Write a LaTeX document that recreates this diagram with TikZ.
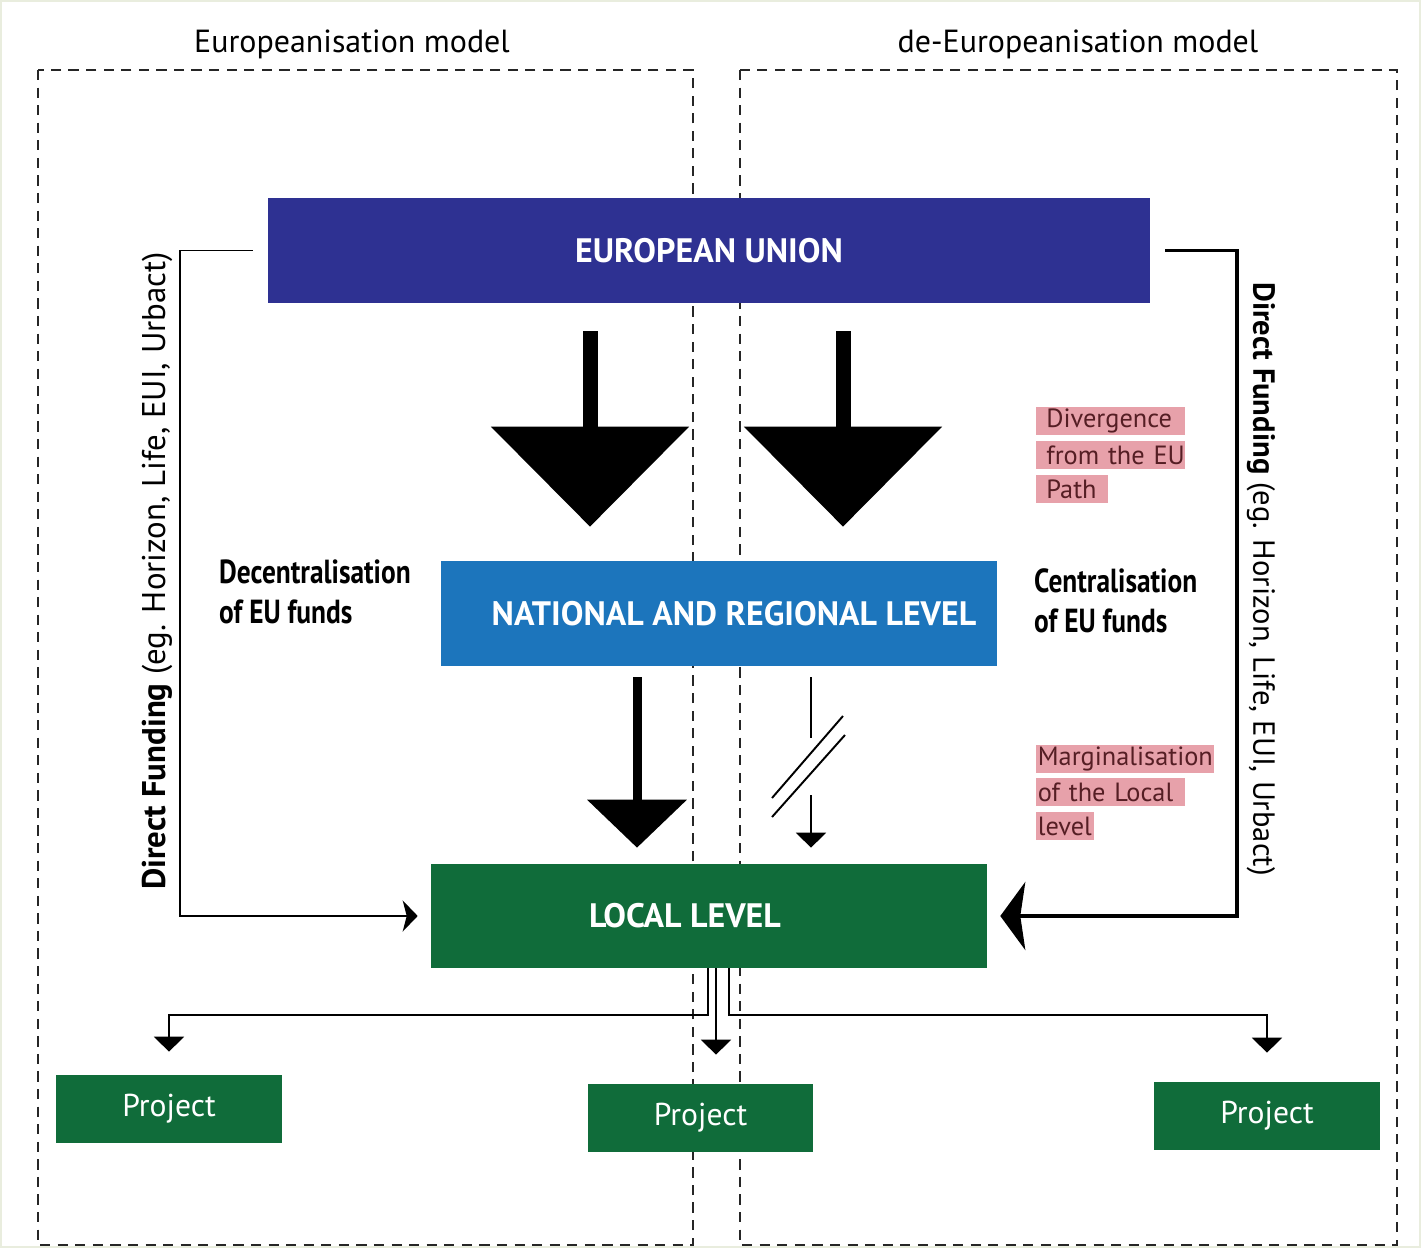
\documentclass[tikz,border=0pt]{standalone}
\usepackage{fontspec}
\setmainfont{PT Sans}
\newfontfamily\condfont[FakeStretch=0.82]{PT Sans}
\usetikzlibrary{arrows.meta}
\definecolor{eublue}{RGB}{46,49,146}
\definecolor{natblue}{RGB}{28,117,188}
\definecolor{locgreen}{RGB}{16,108,58}
\definecolor{hlpink}{RGB}{231,161,170}
\definecolor{hltext}{RGB}{85,30,36}
\definecolor{framecol}{RGB}{233,237,222}
\begin{document}
\begin{tikzpicture}[x=0.02cm, y=-0.02cm,
        box/.style = {fill, inner sep=0pt, text=white},
        level/.style = {box, font=\bfseries\fontsize{19.3}{23}\selectfont},
        proj/.style = {box, fill=locgreen, minimum width=4.52cm, minimum height=1.36cm, font=\fontsize{18}{20}\selectfont},
        model/.style = {draw, black!85, dash pattern=on 5.8pt off 4.2pt, line width=1.35pt},
        title/.style = {font=\fontsize{18.2}{21}\selectfont},
        funds/.style = {anchor=west, align=left, font=\condfont\bfseries\fontsize{19}{22.5}\selectfont},
        hl/.style = {fill=hlpink, text=hltext, anchor=west, minimum height=0.56cm, inner ysep=0pt, align=left, font=\fontsize{15}{18}\selectfont},
        bigarrow/.style = {line width=0.3cm, -{Triangle[width=3.9cm, length=2cm]}},
        midarrow/.style = {line width=0.18cm, -{Triangle[width=1.96cm, length=0.96cm]}},
        thin/.style = {line width=1.1pt},
        branch/.style = {thin, -{Triangle[width=0.6cm, length=0.3cm]}}]
    \useasboundingbox (0,0) rectangle (1421,1248);
    \draw[framecol, line width=1.2pt] (1,1) rectangle (1420,1247);

    \draw[model] (38,70) rectangle (693,1245);
    \draw[model] (740,70) rectangle (1397,1245);
    \node[title] (tl) at (352,44) {Europeanisation model};
    \node[title] (tr) at (1078,44) {de-Europeanisation model};

    \node[level, fill=eublue, minimum width=17.64cm, minimum height=2.1cm] (eu) at (709,250.5) {EUROPEAN UNION};
    \node[level, fill=natblue, minimum width=11.12cm, minimum height=2.1cm] (nat) at (719,613.5) {\hspace*{0.6cm}NATIONAL AND REGIONAL LEVEL};
    \node[level, fill=locgreen, minimum width=11.12cm, minimum height=2.08cm] (loc) at (709,916) {LOCAL LEVEL\hspace*{0.96cm}};
    \node[proj] (p1) at (169,1109) {Project};
    \node[proj] (p2) at (700.5,1118) {Project};
    \node[proj] (p3) at (1267,1116) {Project};

    \node[funds] (dec) at (213,592) {Decentralisation\\of EU funds};
    \node[funds] (cen) at (1028,601) {Centralisation\\of EU funds};

    \node[hl, inner xsep=0.2cm, text width=2.58cm] (div1) at (1036,421) {Divergence};
    \node[hl, inner xsep=0.2cm, text width=2.58cm] (div2) at (1036,455) {from~the~EU};
    \node[hl, inner xsep=0.2cm, text width=1.04cm] (div3) at (1036,489) {Path};
    \node[hl, inner xsep=0.03cm, text width=3.5cm] (mar1) at (1036,759) {Marginalisation};
    \node[hl, inner xsep=0.03cm, text width=2.92cm] (mar2) at (1036,792) {of~the~Local};
    \node[hl, inner xsep=0.03cm, text width=1.1cm] (mar3) at (1036,826) {level};

    \node[rotate=90, font=\fontsize{18.7}{21}\selectfont] (dfl) at (157,571) {\textbf{Direct Funding} (eg. Horizon, Life, EUI, Urbact)};
    \node[rotate=-90, font=\fontsize{17.4}{20}\selectfont] (dfr) at (1261,579) {\textbf{Direct Funding} (eg. Horizon, Life, EUI, Urbact)};

    \draw[bigarrow, shorten <=0.56cm, shorten >=0.68cm] (590,0 |- eu.south) -- (590,0 |- nat.north);
    \draw[bigarrow, shorten <=0.56cm, shorten >=0.68cm] (843,0 |- eu.south) -- (843,0 |- nat.north);
    \draw[midarrow, shorten <=0.22cm, shorten >=0.32cm] (637,0 |- nat.south) -- (637,0 |- loc.north);

    \coordinate (brk1) at (811,738);
    \coordinate (brk2) at (811,795);
    \draw[thin, shorten <=0.22cm] (brk1 |- nat.south) -- (brk1);
    \draw[branch, shorten >=0.32cm] (brk2) -- (brk2 |- loc.north);
    \draw[thin] (772,798) -- (843,716);
    \draw[thin] (772,817) -- (845,735);

    \draw[thin, -{Stealth[length=0.3cm, width=0.62cm, inset=0.08cm]}, shorten <=0.3cm, shorten >=0.26cm] (eu.west) -| (180,0 |- loc.west) -- (loc.west);
    \draw[line width=2.2pt, -{Stealth[length=0.5cm, width=1.36cm, inset=0.1cm]}, shorten <=0.3cm, shorten >=0.26cm] (eu.east) -| (1237,0 |- loc.east) -- (loc.east);

    \draw[branch, shorten >=0.46cm] (708,0 |- loc.south) -- (708,1015) -| (p1.north);
    \draw[branch, shorten >=0.58cm] (716,0 |- loc.south) -- (716,0 |- p2.north);
    \draw[branch, shorten >=0.58cm] (729,0 |- loc.south) -- (729,1015) -| (p3.north);
\end{tikzpicture}
\end{document}
